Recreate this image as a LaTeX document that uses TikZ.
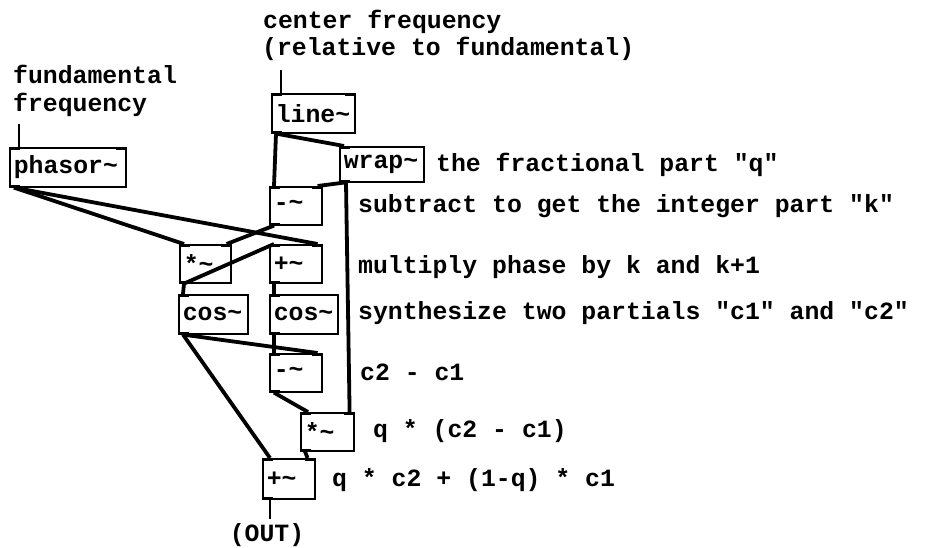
\documentclass[tikz,border=0pt]{standalone}
\usepackage{fontspec}
\setmonofont{Liberation Mono}
\usepackage{tikz}

\newcommand{\pdfont}{\fontsize{24.8}{28}\selectfont\ttfamily\bfseries}

\tikzset{
    pdbox/.style={draw, line width=1.6pt, anchor=north west, align=left,
        text width=#1, inner xsep=4pt, inner ysep=0pt, font=\pdfont},
    wire/.style={line width=3.8pt},
    lead/.style={line width=1.5pt},
    note/.style={anchor=base west, inner sep=0pt, font=\pdfont}
}

\begin{document}
\begin{tikzpicture}[x=1pt, y=-1pt]
    \useasboundingbox (0,0) rectangle (927,547);

    \node[pdbox=108pt, minimum height=39pt] (phasor) at (9,147) {phasor\char`~};
    \node[pdbox=75pt, minimum height=39pt] (line) at (271,93) {line\char`~};
    \node[pdbox=76pt, minimum height=35pt] (wrap) at (339,146) {wrap\char`~};
    \node[pdbox=44pt, minimum height=38pt] (subk) at (269,186) {-\char`~};
    \node[pdbox=43pt, minimum height=38pt] (mulk) at (179,244) {*\char`~};
    \node[pdbox=44pt, minimum height=38pt] (addk) at (269,244) {+\char`~};
    \node[pdbox=61pt, minimum height=39pt] (cosa) at (178,294) {cos\char`~};
    \node[pdbox=60pt, minimum height=39pt] (cosb) at (269,294) {cos\char`~};
    \node[pdbox=44pt, minimum height=38pt] (diff) at (269,353) {-\char`~};
    \node[pdbox=45pt, minimum height=38pt] (mulq) at (300,412) {*\char`~};
    \node[pdbox=44pt, minimum height=40pt] (sum) at (262,458) {+\char`~};

    % inlets and outlets
    \foreach \b in {phasor,line,wrap,subk,mulk,addk,cosa,cosb,diff,mulq,sum} {
        \fill (\b.north west) rectangle ++(11,3);
        \fill (\b.south west) rectangle ++(11,-3);
    }
    \foreach \b in {phasor,line,subk,mulk,addk,diff,mulq,sum}
        \fill (\b.north east) rectangle ++(-11,3);

    % comments
    \node[note] (fund1) at (13,83) {fundamental};
    \node[note] (fund2) at (13,111) {frequency};
    \node[note] (cent1) at (263,28) {center frequency};
    \node[note] (cent2) at (262,55) {(relative to fundamental)};
    \node[note] (qnote) at (436,171) {the fractional part "q"};
    \node[note] (knote) at (358,212) {subtract to get the integer part "k"};
    \node[note] (mnote) at (358,273) {multiply phase by k and k+1};
    \node[note] (snote) at (358,319) {synthesize two partials "c1" and "c2"};
    \node[note] (dnote) at (360,380) {c2 - c1};
    \node[note] (pnote) at (373,437) {q * (c2 - c1)};
    \node[note] (onote) at (332,486) {q * c2 + (1-q) * c1};
    \node[note, anchor=base, inner sep=4pt] (out) at (267,541) {(OUT)};

    \draw[lead] ([xshift=10pt]phasor.north west) -- ++(0,-23);
    \draw[lead] ([xshift=10pt]line.north west) -- ++(0,-23);
    \coordinate (sumout) at ([xshift=8pt]sum.south west);
    \draw[lead] (sumout) -- (sumout |- out.north);

    % signal connections
    \draw[wire] ([xshift=5pt]line.south west) -- ([xshift=5pt]subk.north west);
    \draw[wire] ([xshift=5pt]line.south west) -- ([xshift=5pt]wrap.north west);
    \draw[wire] ([xshift=5pt]wrap.south west) -- ([xshift=-5pt]subk.north east);
    \draw[wire] ([xshift=7pt]wrap.south west) -- ([xshift=-5pt]mulq.north east);
    \draw[wire] ([xshift=5pt]phasor.south west) -- ([xshift=5pt]mulk.north west);
    \draw[wire] ([xshift=5pt]phasor.south west) -- ([xshift=-5pt]addk.north east);
    \draw[wire] ([xshift=5pt]subk.south west) -- ([xshift=-5pt]mulk.north east);
    \draw[wire] ([xshift=5pt]mulk.south west) -- ([xshift=5pt]addk.north west);
    \draw[wire] ([xshift=5pt]mulk.south west) -- ([xshift=5pt]cosa.north west);
    \draw[wire] ([xshift=5pt]addk.south west) -- ([xshift=5pt]cosb.north west);
    \draw[wire] ([xshift=5pt]cosa.south west) -- ([xshift=-5pt]diff.north east);
    \draw[wire] ([xshift=5pt]cosa.south west) -- ([xshift=8pt]sum.north west);
    \draw[wire] ([xshift=5pt]cosb.south west) -- ([xshift=5pt]diff.north west);
    \draw[wire] ([xshift=5pt]diff.south west) -- ([xshift=8pt]mulq.north west);
    \draw[wire] ([xshift=5pt]mulq.south west) -- ([xshift=-8pt]sum.north east);
\end{tikzpicture}
\end{document}
